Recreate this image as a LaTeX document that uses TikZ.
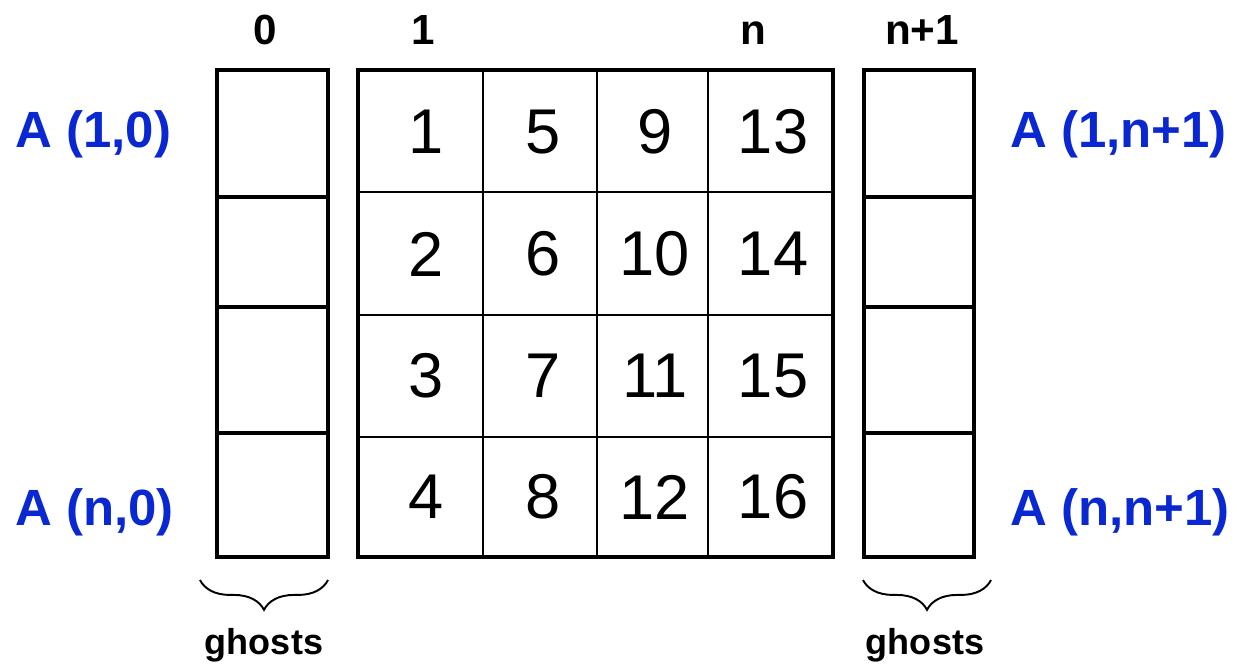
\documentclass[tikz,border=0pt]{standalone}
\usepackage{fontspec}
\setmainfont{Liberation Sans}
\usetikzlibrary{decorations.pathreplacing}
\definecolor{idxblue}{RGB}{10,40,210}

\begin{document}
\begin{tikzpicture}[x=0.02cm,y=-0.02cm,
    thickln/.style={line width=2.8pt},
    thinln/.style={line width=1.1pt},
    entry/.style={font=\fontsize{36}{40}\selectfont},
    colidx/.style={anchor=base,font=\fontsize{24}{28}\selectfont\bfseries},
    bracelab/.style={anchor=base,font=\fontsize{20.5}{24}\selectfont\bfseries},
    ghostlab/.style={anchor=base west,inner sep=0pt,text=idxblue,font=\fontsize{29}{33}\selectfont\bfseries}]
  \useasboundingbox (0,0) rectangle (1237,663);
  % ghost columns
  \foreach \xa/\xb in {217/328,864/974} {
    \draw[thickln] (\xa,70) rectangle (\xb,557);
    \foreach \y in {197,307,433}
      \draw[thickln] (\xa,\y) -- (\xb,\y);
  }
  % local block
  \foreach \x in {483,597,708}
    \draw[thinln] (\x,70) -- (\x,557);
  \foreach \y in {192,315,437}
    \draw[thinln] (358,\y) -- (833,\y);
  \draw[thickln] (358,70) rectangle (833,557);
  \foreach \c/\x in {0/426,1/543,2/655,3/773} {
    \foreach \r/\y in {1/132,2/254,3/376,4/497} {
      \pgfmathtruncatemacro\k{4*\c+\r}
      \node[entry] (e\k) at (\x,\y) {\k};
    }
  }
  % column indices
  \node[colidx] (c0) at (265,44) {0};
  \node[colidx] (c1) at (423,44) {1};
  \node[colidx] (cn) at (753,44) {n};
  \node[colidx] (cn1) at (922,44) {n+1};
  % ghost entries
  \node[ghostlab] (a10) at (15,147) {A (1,0)};
  \node[ghostlab] (an0) at (15,525) {A (n,0)};
  \node[ghostlab] (a1n) at (1010,147) {A (1,n+1)};
  \node[ghostlab] (ann) at (1010,525) {A (n,n+1)};
  % braces
  \coordinate (lbr) at (328,580);
  \coordinate (lbl) at (200,580);
  \coordinate (rbr) at (991,580);
  \coordinate (rbl) at (863,580);
  \draw[thinln,decorate,decoration={brace,amplitude=17pt}] (lbr) -- (lbl);
  \draw[thinln,decorate,decoration={brace,amplitude=17pt}] (rbr) -- (rbl);
  \node[bracelab] (gl) at (264,654) {ghosts};
  \node[bracelab] (gr) at (925,654) {ghosts};
\end{tikzpicture}
\end{document}
